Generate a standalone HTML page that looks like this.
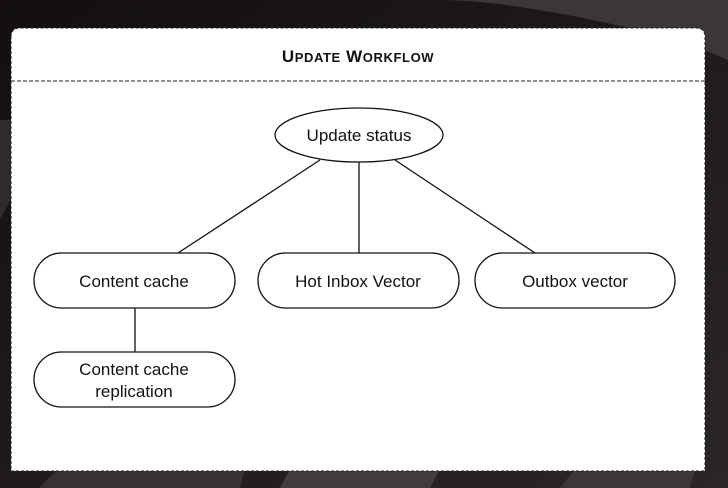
<!DOCTYPE html>
<html><head><meta charset="utf-8"><style>
html,body{margin:0;padding:0;width:728px;height:488px;overflow:hidden;background:#1b1817;}
svg{display:block}
</style></head><body>
<svg width="728" height="488" viewBox="0 0 728 488" xmlns="http://www.w3.org/2000/svg">
<defs>
<linearGradient id="bg" x1="0" y1="0" x2="1" y2="1">
<stop offset="0" stop-color="#120f0e"/><stop offset="1" stop-color="#2a2726"/>
</linearGradient>
</defs>
<rect width="728" height="488" fill="url(#bg)"/>
<path d="M440 0 Q520 0 680 40 L728 60 L728 0 Z" fill="#3a3736"/>
<path d="M0 220 Q30 160 60 120 L0 120 Z" fill="#2e2b2a"/>
<path d="M40 488 Q60 460 110 450 L250 450 L240 488 Z" fill="#353231"/>
<path d="M280 488 L300 450 L450 450 L430 488 Z" fill="#403d3c"/>
<path d="M560 488 L590 450 L700 450 L690 488 Z" fill="#3a3736"/>
<path d="M11 37 Q11 28 20 28 L696 28 Q705 28 705 37 L705 471 L11 471 Z" fill="#fff" stroke="#222" stroke-width="1" stroke-dasharray="3,2"/>
<line x1="11" y1="81" x2="705" y2="81" stroke="#222" stroke-dasharray="4,2"/>
<text x="358" y="62" text-anchor="middle" font-family="Liberation Sans, sans-serif" font-weight="bold" font-size="17" fill="#111" letter-spacing="0.6">U<tspan font-size="13">PDATE</tspan> W<tspan font-size="13">ORKFLOW</tspan></text>
<g stroke="#111" stroke-width="1.3" fill="none">
<line x1="320" y1="160" x2="178" y2="253"/>
<line x1="359" y1="162" x2="359" y2="253"/>
<line x1="395" y1="160" x2="535" y2="253"/>
<line x1="135" y1="308" x2="135" y2="352"/>
</g>
<g stroke="#111" stroke-width="1.3" fill="#fff">
<ellipse cx="359" cy="135" rx="84" ry="27"/>
<rect x="34" y="253" width="201" height="55" rx="27.5"/>
<rect x="258" y="253" width="201" height="55" rx="27.5"/>
<rect x="475" y="253" width="200" height="55" rx="27.5"/>
<rect x="34" y="352" width="201" height="55" rx="27.5"/>
</g>
<g font-family="Liberation Sans, sans-serif" font-size="17" fill="#111" text-anchor="middle">
<text x="359" y="141">Update status</text>
<text x="134" y="287">Content cache</text>
<text x="358" y="287">Hot Inbox Vector</text>
<text x="575" y="287">Outbox vector</text>
<text x="134" y="375">Content cache</text>
<text x="134" y="397">replication</text>
</g>
</svg>
</body></html>
